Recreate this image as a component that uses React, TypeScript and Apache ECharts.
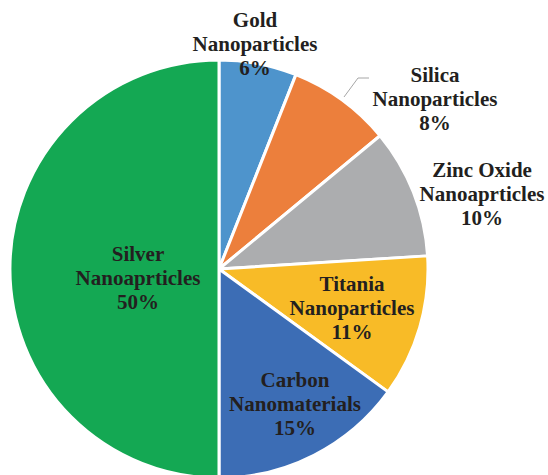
import React, { useEffect, useRef } from "react";
import * as echarts from "echarts";

const categories = [
  "Gold\nNanoparticles",
  "Silica\nNanoparticles",
  "Zinc Oxide\nNanoaprticles",
  "Titania\nNanoparticles",
  "Carbon\nNanomaterials",
  "Silver\nNanoaprticles",
];
const values = [6, 8, 10, 11, 15, 50];
const colors = ["#4e94cc", "#ec7f3c", "#acadaf", "#f8bb27", "#3c6db5", "#14a853"];

const FONT = "'Liberation Serif', 'Times New Roman', Times, serif";

export default function App() {
  const ref = useRef<HTMLDivElement>(null);
  useEffect(() => {
    document.body.style.margin = "0";
    const chart = echarts.init(ref.current!, null, { renderer: "svg" });
    const cx = 219;
    const cy = 269;
    // label centre offsets from the pie centre
    const labelOffsets: [number, number][] = [
      [36, -225],
      [216, -170],
      [263, -75],
      [133, 39],
      [76, 135],
      [-81, 9],
    ];
    chart.setOption({
      animation: false,
      backgroundColor: "#ffffff",
      textStyle: { fontFamily: FONT },
      series: [
        {
          type: "pie",
          center: [cx, cy],
          radius: 209,
          startAngle: 90,
          clockwise: true,
          avoidLabelOverlap: false,
          data: categories.map((name, i) => ({
            name,
            value: values[i],
            itemStyle: { color: colors[i] },
            labelLine: { show: i === 1 },
          })),
          itemStyle: { borderColor: "#ffffff", borderWidth: 3 },
          label: {
            show: true,
            position: "outside",
            formatter: (p: any) => `${p.name}\n${Math.round(p.percent)}%`,
            fontFamily: FONT,
            fontWeight: "bold",
            fontSize: 21,
            lineHeight: 24,
            color: "#231f20",
            align: "center",
            overflow: "none",
            edgeDistance: 0,
          },
          labelLine: {
            show: false,
            lineStyle: { color: "#a6a6a6", width: 1 },
          },
          labelLayout: (params: any) => {
            const [dx, dy] = labelOffsets[params.dataIndex];
            const res: any = {
              x: cx + dx,
              y: cy + dy,
              align: "center",
              verticalAlign: "middle",
              hideOverlap: false,
            };
            if (params.dataIndex === 1) {
              res.labelLinePoints = [
                [cx + 125, cy - 172],
                [cx + 139, cy - 191],
                [cx + 150, cy - 191],
              ];
            }
            return res;
          },
        },
      ],
    });
    return () => chart.dispose();
  }, []);
  return <div ref={ref} style={{ width: 548, height: 475 }} />;
}
